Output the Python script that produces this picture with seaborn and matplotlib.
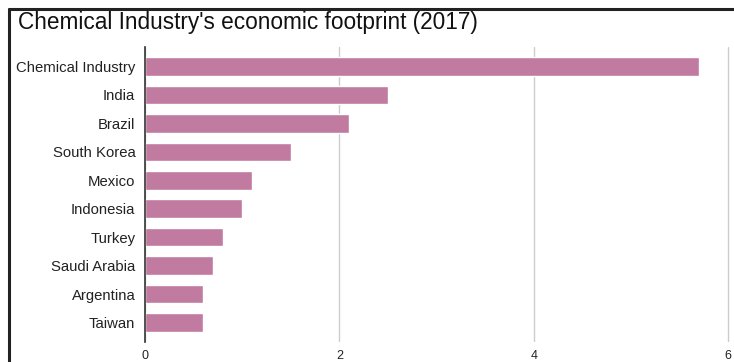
import matplotlib
matplotlib.use("Agg")
import matplotlib.pyplot as plt
import seaborn as sns
import pandas as pd
from matplotlib.lines import Line2D

categories = ["Chemical Industry", "India", "Brazil", "South Korea", "Mexico",
              "Indonesia", "Turkey", "Saudi Arabia", "Argentina", "Taiwan"]
values = [5.7, 2.5, 2.1, 1.5, 1.1, 1.0, 0.8, 0.7, 0.6, 0.6]
x_ticks = [0, 2, 4, 6]
title = "Chemical Industry's economic footprint (2017)"

df = pd.DataFrame({"category": categories, "value": values})

sns.set_theme(style="white")
plt.rcParams["font.family"] = ["Liberation Sans", "DejaVu Sans"]

fig = plt.figure(figsize=(7.34, 3.62), dpi=100)
W, H = 734, 362
ax = fig.add_axes([145 / W, 1 - 342 / H, (731 - 145) / W, (342 - 47) / H])

sns.barplot(data=df, y="category", x="value", orient="h", color="#C27BA0",
            saturation=1, width=0.65, ax=ax, order=categories)

ax.set_xlim(0, 6.03)
ax.set_ylim(9.68, -0.68)
ax.set_xticks(x_ticks)
ax.set_xticklabels([str(t) for t in x_ticks], fontsize=9, color="#222222")
ax.tick_params(axis="y", labelsize=10.7, labelcolor="#222222", length=0, pad=7)
ax.tick_params(axis="x", length=0, pad=6)
ax.set_xlabel("")
ax.set_ylabel("")
for s in ["top", "right", "bottom"]:
    ax.spines[s].set_visible(False)
ax.spines["left"].set_color("#333333")
ax.spines["left"].set_linewidth(1.2)
ax.grid(axis="x", color="#cccccc", linewidth=1)
ax.set_axisbelow(True)

fig.text(18 / W, 1 - 23 / H, title, fontsize=16.3, color="#111111",
         ha="left", va="center")

# outer frame lines (top and left)
fig.add_artist(Line2D([9 / W, 1], [1 - 9 / H, 1 - 9 / H], transform=fig.transFigure,
                      color="#222222", linewidth=2.2))
fig.add_artist(Line2D([9 / W, 9 / W], [0, 1 - 9 / H], transform=fig.transFigure,
                      color="#222222", linewidth=2.2))

fig.savefig("out.png", dpi=100)
